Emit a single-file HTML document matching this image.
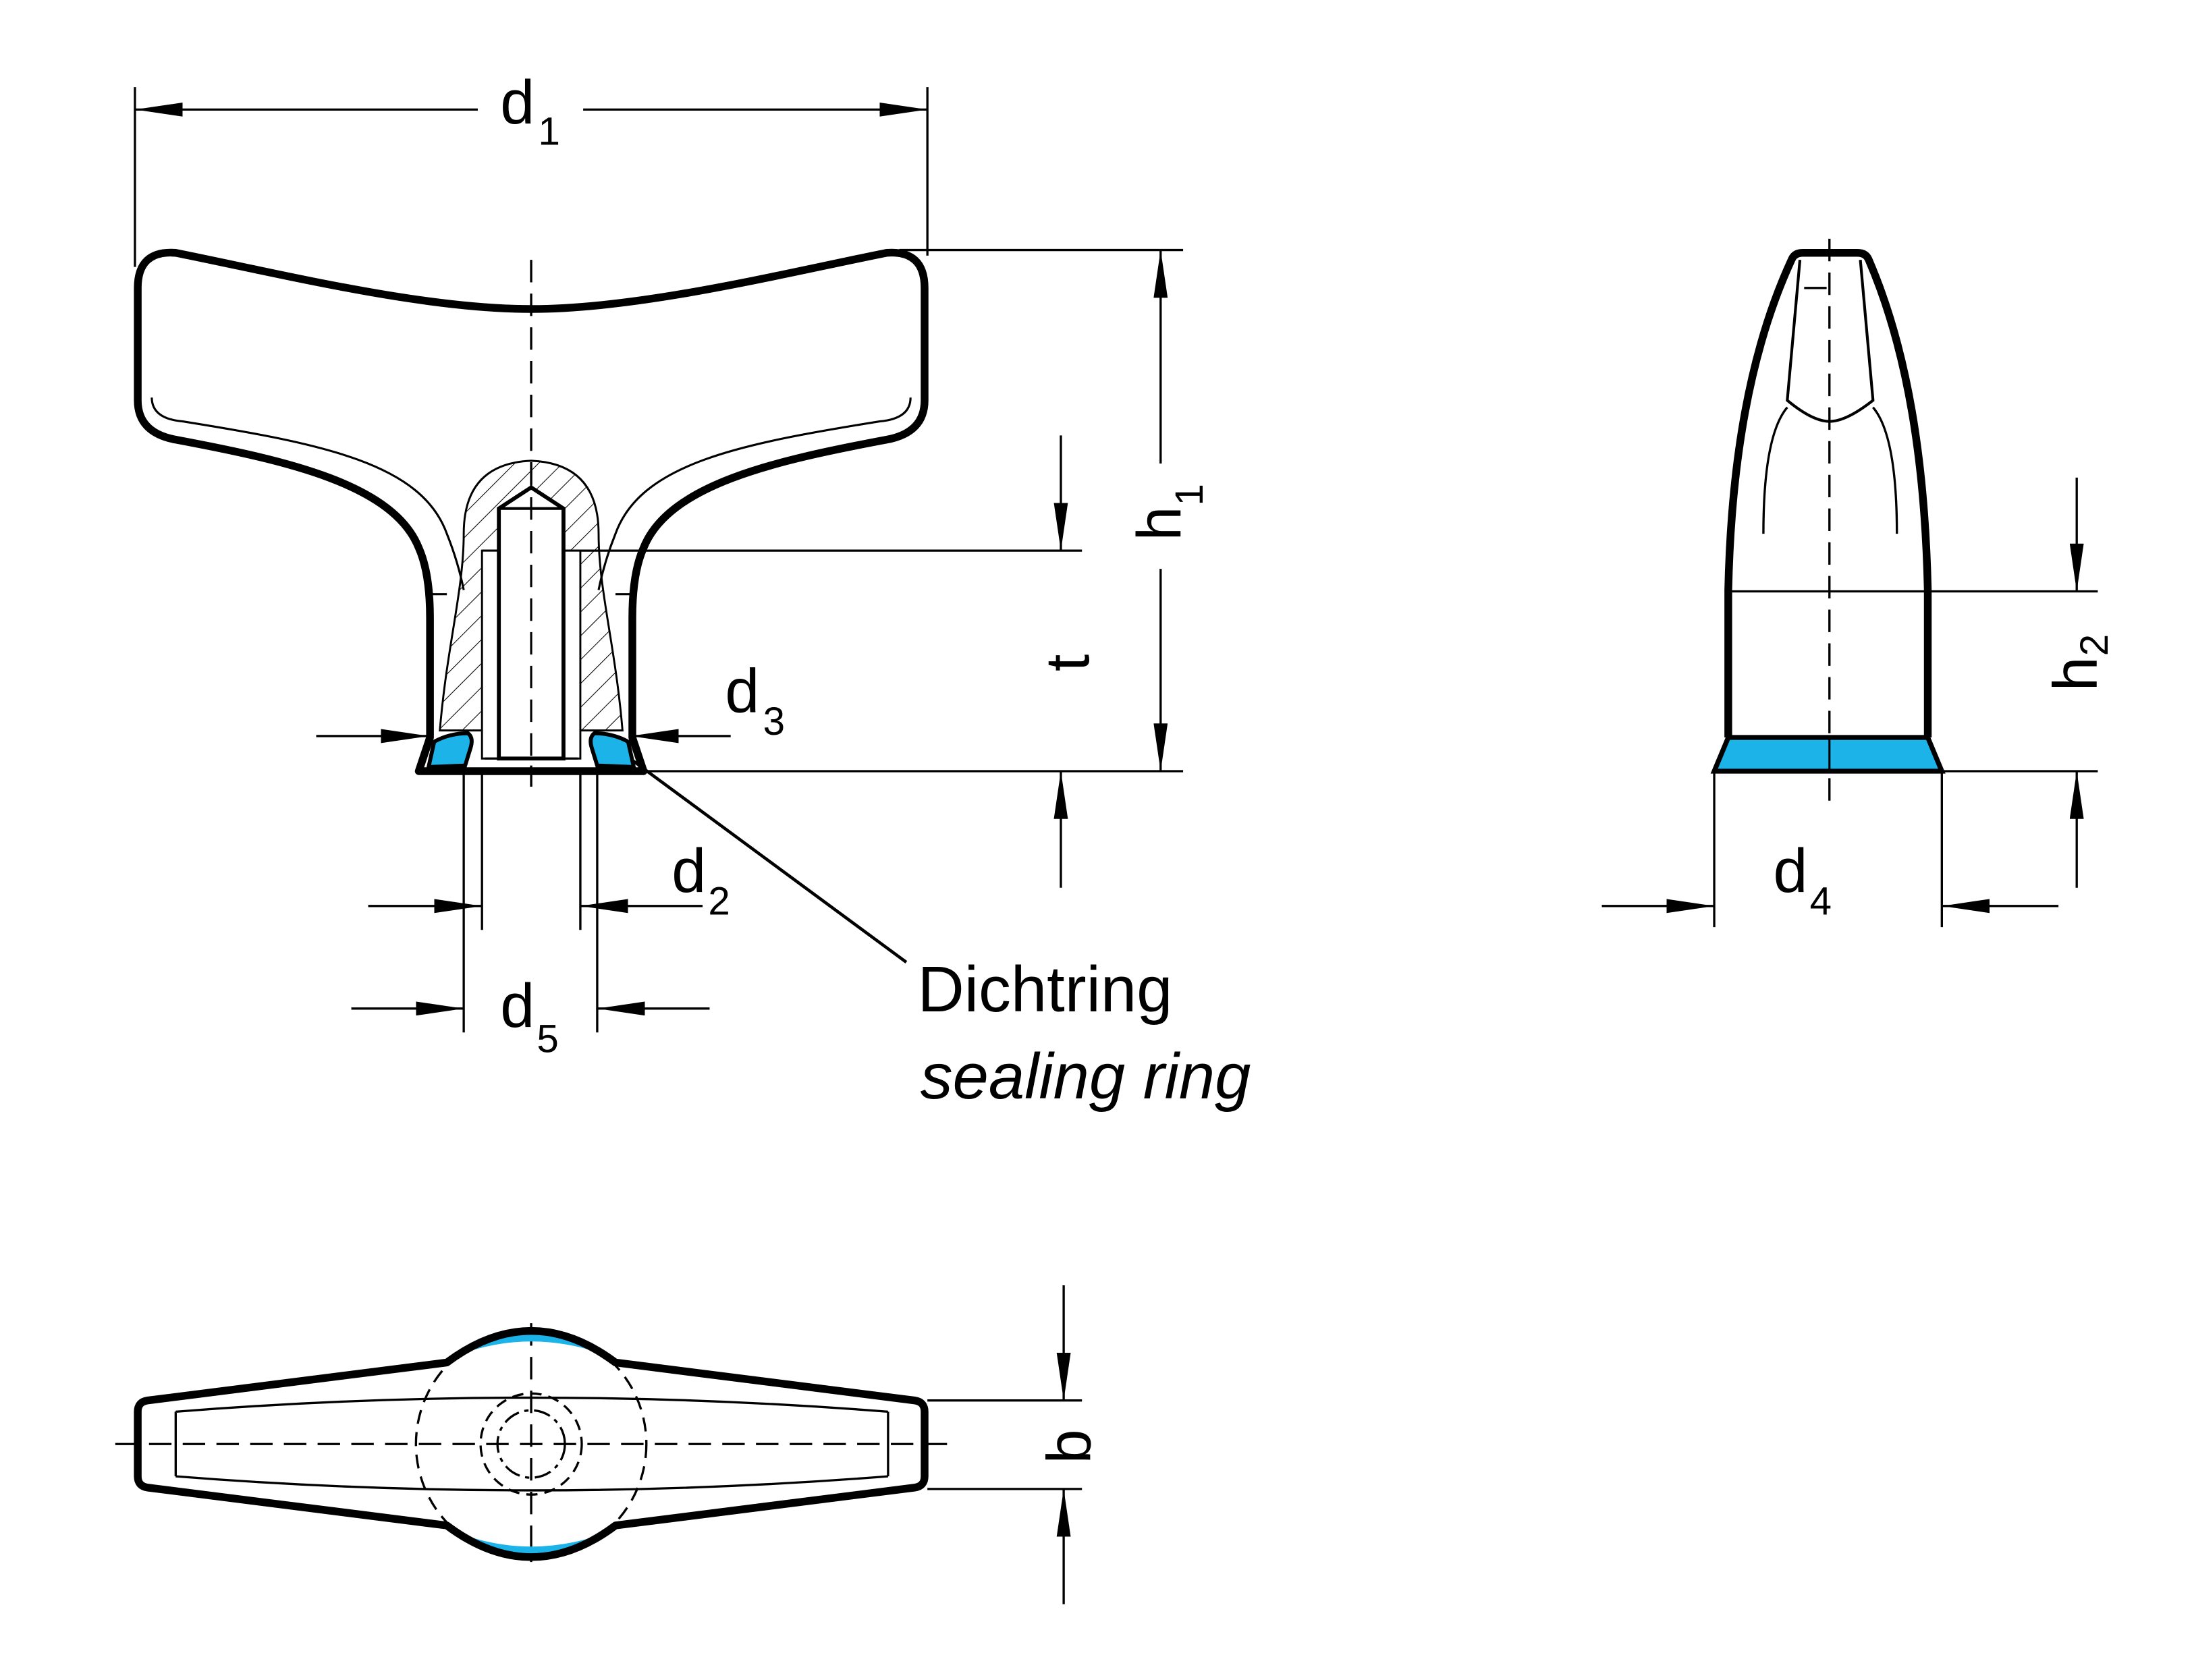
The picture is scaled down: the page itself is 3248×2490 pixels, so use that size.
<!DOCTYPE html>
<html><head><style>html,body{margin:0;padding:0;background:#fff}svg{display:block}</style></head>
<body>
<svg width="3248" height="2490" viewBox="0 0 1560 1196" xmlns="http://www.w3.org/2000/svg">
<defs>
<marker id="a" viewBox="0 0 34 10" refX="34" refY="5" markerWidth="34" markerHeight="10" markerUnits="userSpaceOnUse" orient="auto"><path d="M0,0 L34,5 L0,10z" fill="#000"/></marker>
<pattern id="h" width="12" height="12" patternUnits="userSpaceOnUse" patternTransform="rotate(45)"><line x1="0" y1="0" x2="0" y2="12" stroke="#000" stroke-width="1"/></pattern>
</defs>
<rect width="1560" height="1196" fill="#fff"/>
<g font-family="Liberation Sans, sans-serif" fill="#000">
<!-- ===== Front view ===== -->
<g stroke="#000" fill="none" stroke-width="1.6">
<line x1="96" y1="62" x2="96" y2="190"/><line x1="660" y1="62" x2="660" y2="182"/>
<line x1="340" y1="78" x2="96" y2="78" marker-end="url(#a)"/>
<line x1="415" y1="78" x2="660" y2="78" marker-end="url(#a)"/>
<line x1="640" y1="178" x2="842" y2="178"/>
<line x1="458" y1="549" x2="842" y2="549"/>
<line x1="343" y1="392" x2="770" y2="392"/>
<line x1="826" y1="330" x2="826" y2="178" marker-end="url(#a)"/>
<line x1="826" y1="405" x2="826" y2="549" marker-end="url(#a)"/>
<line x1="755" y1="310" x2="755" y2="392" marker-end="url(#a)"/>
<line x1="755" y1="632" x2="755" y2="549" marker-end="url(#a)"/>
<line x1="225" y1="524" x2="305" y2="524" marker-end="url(#a)"/>
<line x1="520" y1="524" x2="449" y2="524" marker-end="url(#a)"/>
<line x1="330" y1="549" x2="330" y2="735"/><line x1="425" y1="549" x2="425" y2="735"/>
<line x1="343" y1="549" x2="343" y2="662"/><line x1="413" y1="549" x2="413" y2="662"/>
<line x1="262" y1="645" x2="343" y2="645" marker-end="url(#a)"/>
<line x1="500" y1="645" x2="413" y2="645" marker-end="url(#a)"/>
<line x1="250" y1="718" x2="330" y2="718" marker-end="url(#a)"/>
<line x1="505" y1="718" x2="425" y2="718" marker-end="url(#a)"/>
<line x1="432" y1="528" x2="645" y2="685" stroke-width="2.2"/>
<line x1="378" y1="185" x2="378" y2="560" stroke-dasharray="16,8"/>
</g>
<!-- hatched section -->
<path d="M313,520 C318,460 330,420 330,380 Q330,330 378,328 Q426,330 426,380 C426,420 438,460 443,520 Z" fill="url(#h)" stroke="#000" stroke-width="1.4"/>
<path d="M343,392 L343,540 L413,540 L413,392 Z" fill="#fff" stroke="#000" stroke-width="1.4"/>
<path d="M355,540 L355,362 L378,347 L401,362 L401,540 Z" fill="#fff" stroke="#000" stroke-width="2.8"/>
<line x1="355" y1="362" x2="401" y2="362" stroke="#000" stroke-width="2"/>
<line x1="378" y1="330" x2="378" y2="560" stroke="#000" stroke-width="1.5" stroke-dasharray="16,8"/>
<!-- thin inner line -->
<path d="M108,283 Q108,298 130,300 C230,316 300,330 318,380 Q326,400 330,420" fill="none" stroke="#000" stroke-width="1.5"/>
<path d="M648,283 Q648,298 626,300 C526,316 456,330 438,380 Q430,400 426,420" fill="none" stroke="#000" stroke-width="1.5"/>
<line x1="306" y1="423" x2="318" y2="423" stroke="#000" stroke-width="1.5"/>
<line x1="438" y1="423" x2="450" y2="423" stroke="#000" stroke-width="1.5"/>
<!-- outline -->
<path d="M378,220 C300,220 200,195 125,180 Q98,178 98,205 L98,285 Q98,308 125,313 C205,328 280,345 298,390 Q306,408 306,440 L306,525 L298,549 L458,549 L450,525 L450,440 Q450,408 458,390 C476,345 551,328 631,313 Q658,308 658,285 L658,205 Q658,178 631,180 C556,195 456,220 378,220 Z" fill="none" stroke="#000" stroke-width="5.5" stroke-linejoin="round"/>
<!-- sealing ring -->
<path d="M309,528 Q320,522 333,522 Q337,525 335,532 L331,545 L305,546 Z" fill="#1cb4e8" stroke="#000" stroke-width="2.8"/>
<path d="M447,528 Q436,522 423,522 Q419,525 421,532 L425,545 L451,546 Z" fill="#1cb4e8" stroke="#000" stroke-width="2.8"/>
<line x1="345" y1="540" x2="411" y2="540" stroke="#000" stroke-width="1.5"/>
<text x="356" y="88" font-size="44">d</text><text x="383" y="103" font-size="28">1</text>
<text x="516" y="507" font-size="44">d</text><text x="543" y="523" font-size="28">3</text>
<text x="478" y="635" font-size="44">d</text><text x="504" y="651" font-size="28">2</text>
<text x="356" y="731" font-size="44">d</text><text x="382" y="749" font-size="28">5</text>
<text transform="translate(840,385) rotate(-90)" font-size="44">h</text>
<text transform="translate(856,360) rotate(-90)" font-size="28">1</text>
<text transform="translate(775,478) rotate(-90)" font-size="44">t</text>
<text x="653" y="720" font-size="46">Dichtring</text>
<text x="655" y="782" font-size="46" font-style="italic">sealing ring</text>

<!-- ===== Side view ===== -->
<g stroke="#000" fill="none" stroke-width="1.6">
<line x1="1230" y1="421" x2="1493" y2="421"/>
<line x1="1382" y1="549" x2="1493" y2="549"/>
<line x1="1478" y1="340" x2="1478" y2="421" marker-end="url(#a)"/>
<line x1="1478" y1="632" x2="1478" y2="549" marker-end="url(#a)"/>
<line x1="1220" y1="549" x2="1220" y2="660"/><line x1="1382" y1="549" x2="1382" y2="660"/>
<line x1="1140" y1="645" x2="1220" y2="645" marker-end="url(#a)"/>
<line x1="1465" y1="645" x2="1382" y2="645" marker-end="url(#a)"/>
<path d="M1281,185 L1272,285 Q1290,300 1302,300 Q1314,300 1333,285 L1324,185" stroke-width="2"/>
<path d="M1272,290 Q1255,310 1255,380"/>
<path d="M1333,290 Q1350,310 1350,380"/>
<line x1="1284" y1="205" x2="1300" y2="205"/>
<line x1="1302" y1="170" x2="1302" y2="570" stroke-dasharray="16,8"/>
</g>
<path d="M1230,525 L1372,525 L1382,549 L1220,549 Z" fill="#1cb4e8" stroke="#000" stroke-width="3.5"/>
<line x1="1302" y1="525" x2="1302" y2="549" stroke="#000" stroke-width="1.5"/>
<path d="M1230,525 L1230,420 C1232,330 1245,250 1275,185 Q1277,180 1283,180 L1322,180 Q1328,180 1330,185 C1358,250 1370,330 1372,420 L1372,525" fill="none" stroke="#000" stroke-width="5.5" stroke-linejoin="round"/>
<text x="1262" y="635" font-size="44">d</text><text x="1288" y="651" font-size="28">4</text>
<text transform="translate(1492,492) rotate(-90)" font-size="44">h</text>
<text transform="translate(1500,467) rotate(-90)" font-size="28">2</text>

<!-- ===== Bottom view ===== -->
<g stroke="#000" fill="none" stroke-width="1.6">
<line x1="660" y1="997" x2="770" y2="997"/><line x1="660" y1="1060" x2="770" y2="1060"/>
<line x1="757" y1="915" x2="757" y2="997" marker-end="url(#a)"/>
<line x1="757" y1="1142" x2="757" y2="1060" marker-end="url(#a)"/>
<path d="M125,1005 Q378,985 632,1005 M125,1051 Q378,1071 632,1051 M125,1005 L125,1051 M632,1005 L632,1051"/>
<circle cx="378" cy="1028" r="82" stroke-dasharray="10,6"/>
<circle cx="378" cy="1028" r="36" stroke-dasharray="8,5"/>
<circle cx="378" cy="1028" r="24" stroke-dasharray="12,4,3,4"/>
<line x1="82" y1="1028" x2="675" y2="1028" stroke-dasharray="16,8"/>
<line x1="378" y1="942" x2="378" y2="1112" stroke-dasharray="16,8"/>
</g>
<path d="M325,965 Q378,935 432,965 Q378,945 325,965 Z" fill="#1cb4e8"/>
<path d="M325,1091 Q378,1121 432,1091 Q378,1111 325,1091 Z" fill="#1cb4e8"/>
<path d="M105,997 L318,970 Q378,925 438,970 L651,997 Q658,998 658,1005 L658,1051 Q658,1058 651,1059 L438,1086 Q378,1131 318,1086 L105,1059 Q98,1058 98,1051 L98,1005 Q98,998 105,997 Z" fill="none" stroke="#000" stroke-width="5.5" stroke-linejoin="round"/>
<text transform="translate(776,1042) rotate(-90)" font-size="44">b</text>
</g>
</svg>
</body></html>
